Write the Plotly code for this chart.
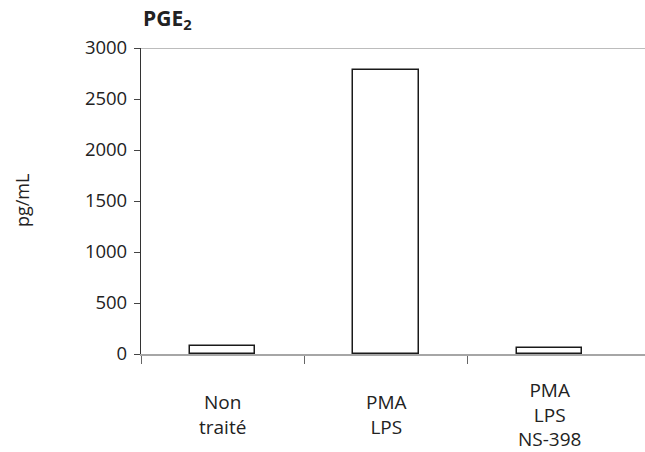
import plotly.graph_objects as go

categories = ["Non<br>traité", "PMA<br>LPS", "PMA<br>LPS<br>NS-398"]
values = [80, 2780, 60]
y_ticks = [0, 500, 1000, 1500, 2000, 2500, 3000]
title_text = "PGE<sub>2</sub>"
y_title = "pg/mL"

FONT = "Open Sans"
xs = list(range(len(categories)))

fig = go.Figure()
fig.add_trace(go.Bar(
    x=xs, y=values, width=0.4,
    marker=dict(color="white", line=dict(color="#1a1a1a", width=1.5)),
    showlegend=False, hoverinfo="skip",
))

bounds = [i - 0.5 for i in xs]

fig.update_layout(
    width=645, height=452,
    margin=dict(l=141, r=0, t=48, b=98),
    plot_bgcolor="white", paper_bgcolor="white",
    font=dict(family=FONT, size=18, color="#222"),
    bargap=0,
    xaxis=dict(
        range=[-0.5, 2.585], tickmode="array", tickvals=bounds,
        showticklabels=False, ticks="outside", ticklen=8,
        tickcolor="#666", showline=True, linecolor="#a6a6a6", linewidth=1.5,
        showgrid=False, zeroline=False, fixedrange=True,
    ),
    yaxis=dict(
        range=[0, 3000], tickmode="array", tickvals=y_ticks,
        ticks="outside", ticklen=6, tickcolor="#444", showline=True,
        linecolor="#333", linewidth=1.2, showgrid=False, zeroline=False,
        ticklabelstandoff=3, tickfont=dict(size=18.5), fixedrange=True,
    ),
    shapes=[dict(type="line", xref="paper", yref="y", x0=0, x1=1,
                 y0=y_ticks[-1], y1=y_ticks[-1],
                 line=dict(color="#a6a6a6", width=1.5), layer="below")],
)

for x, label in zip(xs, categories):
    fig.add_annotation(x=x, xref="x", y=-0.199, yref="paper", text=label,
                       showarrow=False, yanchor="middle",
                       font=dict(size=19, family=FONT, color="#222"))

fig.add_annotation(x=-0.236, xref="paper", y=0.5, yref="paper",
                   text=y_title, textangle=-90, showarrow=False,
                   xanchor="center", yanchor="middle",
                   font=dict(size=18, family=FONT, color="#222"))

fig.add_annotation(x=0, xref="paper", y=1.0, yref="paper", yshift=12,
                   text="<b>" + title_text + "</b>", showarrow=False,
                   xanchor="left", yanchor="bottom",
                   font=dict(size=21, family=FONT, color="#222"))

fig.write_html("out.html", config={"displayModeBar": False},
               post_script="document.body.style.margin='0';document.body.style.padding='0';")
